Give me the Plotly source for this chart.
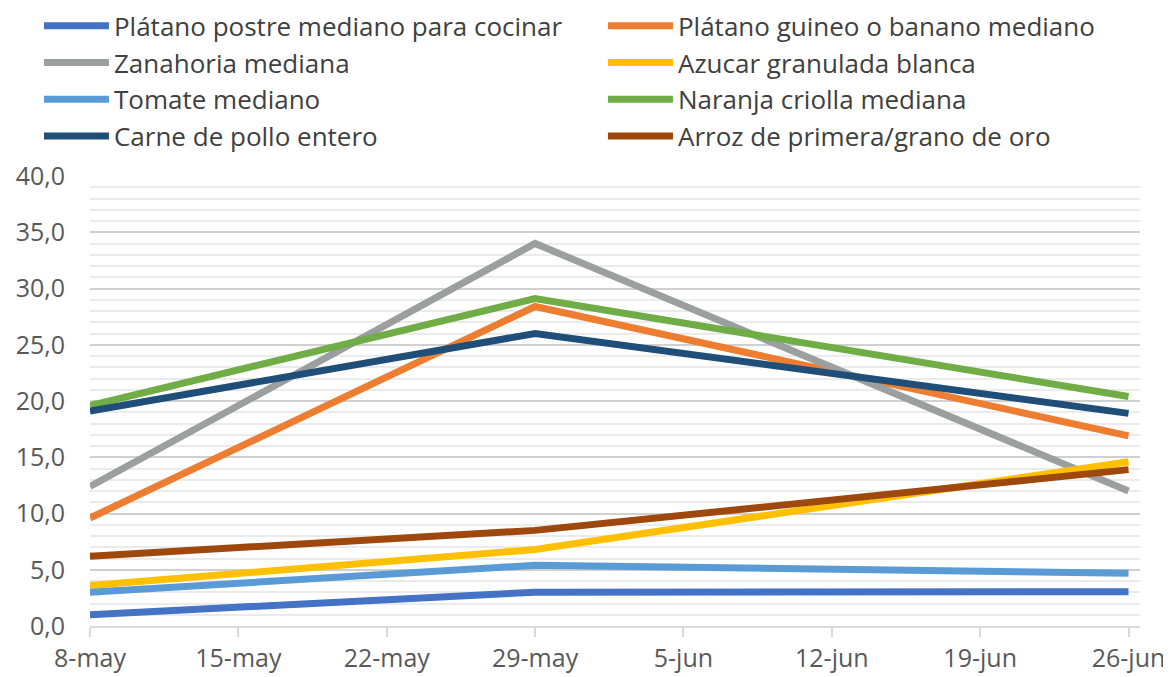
import plotly.graph_objects as go

dates = ["2020-05-08", "2020-05-29", "2020-06-26"]
tick_dates = ["2020-05-08", "2020-05-15", "2020-05-22", "2020-05-29",
              "2020-06-05", "2020-06-12", "2020-06-19", "2020-06-26"]
tick_labels = ["8-may", "15-may", "22-may", "29-may", "5-jun", "12-jun", "19-jun", "26-jun"]

platano_postre = [1.0, 3.0, 3.05]
platano_guineo = [9.6, 28.4, 16.9]
zanahoria = [12.4, 34.0, 12.0]
azucar = [3.6, 6.8, 14.6]
tomate = [3.0, 5.4, 4.7]
naranja = [19.6, 29.1, 20.4]
pollo = [19.1, 26.0, 18.9]
arroz = [6.2, 8.5, 13.9]

series = [
    ("Plátano postre mediano para cocinar", platano_postre, "#4472C4"),
    ("Plátano guineo o banano mediano", platano_guineo, "#ED7D31"),
    ("Zanahoria mediana", zanahoria, "#9C9FA0"),
    ("Azucar granulada blanca", azucar, "#FFC000"),
    ("Tomate mediano", tomate, "#5B9BD5"),
    ("Naranja criolla mediana", naranja, "#70AD47"),
    ("Carne de pollo entero", pollo, "#1F4E79"),
    ("Arroz de primera/grano de oro", arroz, "#9E480E"),
]

fig = go.Figure()
for name, vals, color in series:
    fig.add_trace(go.Scatter(x=dates, y=vals, name=name, mode="lines",
                             line=dict(color=color, width=7)))

font_fam = "Open Sans, Liberation Sans, sans-serif"
fig.update_layout(
    width=1163, height=669,
    margin=dict(l=82, r=31, t=168, b=51, autoexpand=False),
    plot_bgcolor="white", paper_bgcolor="white",
    separators=",.",
    font=dict(family=font_fam, size=25, color="#595959"),
    showlegend=True,
    legend=dict(orientation="h", x=-0.0486, y=1.386, xanchor="left", yanchor="top",
                entrywidth=484, entrywidthmode="pixels", itemwidth=65,
                font=dict(size=26, color="#404040"), tracegroupgap=0,
                bgcolor="rgba(0,0,0,0)"),
    xaxis=dict(type="date", range=["2020-05-08", "2020-06-26 13:00"],
               tickvals=tick_dates, ticktext=tick_labels,
               showgrid=False, showline=True, linecolor="#D9D9D9", linewidth=2,
               ticks="outside", ticklen=9, tickcolor="#D9D9D9", tickwidth=2,
               tickfont=dict(size=25, color="#595959"), zeroline=False),
    yaxis=dict(range=[0, 40], dtick=5, tickformat=".1f",
               showgrid=True, gridcolor="#D0D0D0", gridwidth=2,
               minor=dict(dtick=1, showgrid=True, gridcolor="#EBEBEB", gridwidth=2),
               zeroline=False, showline=False,
               tickfont=dict(size=25, color="#595959"), ticklabelstandoff=24),
)

fig.write_html("out.html")
